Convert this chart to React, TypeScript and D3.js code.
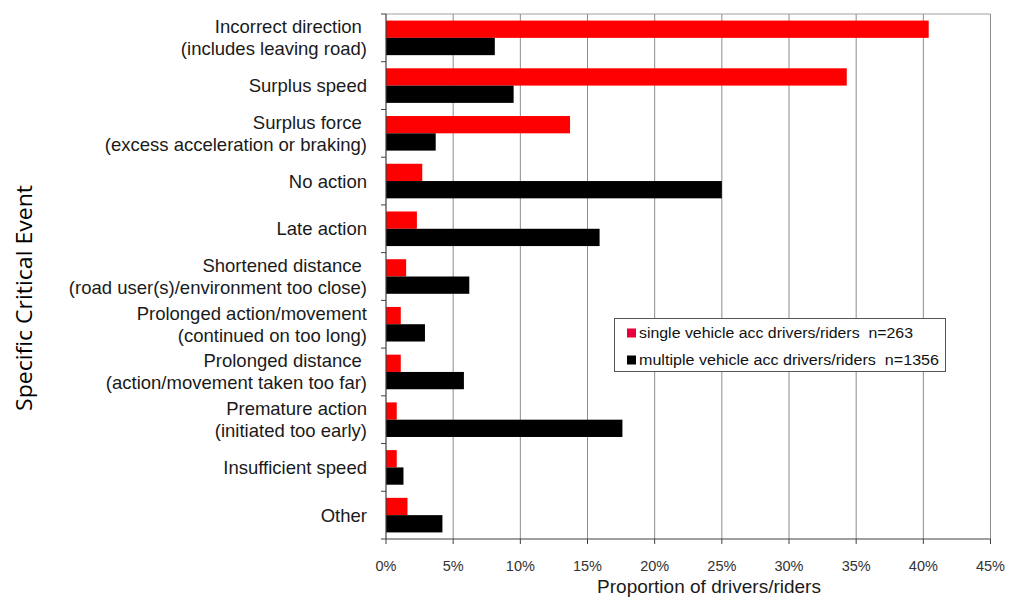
import { useRef, useEffect } from 'react';
import * as d3 from 'd3';

// category labels (each line of a label is an entry)
const categories: string[][] = [
  ['Incorrect direction ', '(includes leaving road)'],
  ['Surplus speed'],
  ['Surplus force ', '(excess acceleration or braking)'],
  ['No action'],
  ['Late action'],
  ['Shortened distance ', '(road user(s)/environment too close)'],
  ['Prolonged action/movement', '(continued on too long)'],
  ['Prolonged distance ', '(action/movement taken too far)'],
  ['Premature action', '(initiated too early)'],
  ['Insufficient speed'],
  ['Other'],
];

const singleVehicle = [40.4, 34.3, 13.7, 2.7, 2.3, 1.5, 1.1, 1.1, 0.8, 0.8, 1.6];
const multipleVehicle = [8.1, 9.5, 3.7, 25.0, 15.9, 6.2, 2.9, 5.8, 17.6, 1.3, 4.2];

const xTicks = [0, 5, 10, 15, 20, 25, 30, 35, 40, 45];

const seriesNames = [
  'single vehicle acc drivers/riders  n=263',
  'multiple vehicle acc drivers/riders  n=1356',
];
const seriesColors = ['#ff0000', '#000000'];

const W = 1011;
const H = 598;

const App = () => {
  const svgRef = useRef<SVGSVGElement>(null);

  useEffect(() => {
    if (!svgRef.current) return;
    const svg = d3.select(svgRef.current);
    svg.selectAll('*').remove();

    const left = 386;
    const right = 990.5;
    const top = 14;
    const bottom = 539;

    const x = d3.scaleLinear().domain([0, 45]).range([left, right]);
    const y = d3.scaleBand<number>()
      .domain(d3.range(categories.length))
      .range([top, bottom]);
    const inner = d3.scaleBand<number>()
      .domain([0, 1])
      .range([0, y.bandwidth()])
      .paddingOuter(0.38)
      .paddingInner(0);

    // plot frame: top border, vertical gridlines
    svg.append('line')
      .attr('x1', left).attr('x2', right)
      .attr('y1', top).attr('y2', top)
      .attr('stroke', '#a0a0a0').attr('stroke-width', 1);

    svg.append('g')
      .selectAll('line')
      .data(xTicks.slice(1))
      .enter()
      .append('line')
      .attr('x1', d => x(d)).attr('x2', d => x(d))
      .attr('y1', top).attr('y2', bottom)
      .attr('stroke', '#8c8c8c').attr('stroke-width', 1);

    // bars
    const series = [singleVehicle, multipleVehicle];
    series.forEach((vals, s) => {
      svg.append('g')
        .selectAll('rect')
        .data(vals)
        .enter()
        .append('rect')
        .attr('x', x(0))
        .attr('y', (_d, i) => (y(i) as number) + (inner(s) as number))
        .attr('width', d => x(d) - x(0))
        .attr('height', inner.bandwidth())
        .attr('fill', seriesColors[s]);
    });

    // y axis line and ticks at band boundaries
    svg.append('line')
      .attr('x1', left).attr('x2', left)
      .attr('y1', top).attr('y2', bottom)
      .attr('stroke', '#404040').attr('stroke-width', 1.2);
    svg.append('g')
      .selectAll('line')
      .data(d3.range(categories.length + 1))
      .enter()
      .append('line')
      .attr('x1', left - 5).attr('x2', left)
      .attr('y1', i => top + i * y.step())
      .attr('y2', i => top + i * y.step())
      .attr('stroke', '#404040').attr('stroke-width', 1);

    // x axis line and ticks
    svg.append('line')
      .attr('x1', left).attr('x2', right)
      .attr('y1', bottom).attr('y2', bottom)
      .attr('stroke', '#404040').attr('stroke-width', 1.2);
    svg.append('g')
      .selectAll('line')
      .data(xTicks)
      .enter()
      .append('line')
      .attr('x1', d => x(d)).attr('x2', d => x(d))
      .attr('y1', bottom).attr('y2', bottom + 5)
      .attr('stroke', '#404040').attr('stroke-width', 1);

    svg.append('g')
      .selectAll('text')
      .data(xTicks)
      .enter()
      .append('text')
      .attr('x', d => x(d))
      .attr('y', 566)
      .attr('dy', '0.35em')
      .attr('text-anchor', 'middle')
      .attr('font-family', 'Liberation Sans, Arial, sans-serif')
      .attr('font-size', '14.5px')
      .attr('fill', '#333')
      .text(d => `${d}%`);

    // category labels
    const labels = svg.append('g')
      .attr('font-family', 'Liberation Sans, Arial, sans-serif')
      .attr('font-size', '18.5px')
      .attr('fill', '#1a1a1a')
      .attr('text-anchor', 'end');
    categories.forEach((lines, i) => {
      const cy = (y(i) as number) + y.bandwidth() / 2;
      lines.forEach((line, j) => {
        const off = lines.length === 1 ? 0 : (j === 0 ? -11 : 11);
        labels.append('text')
          .attr('x', 367)
          .attr('y', cy + off)
          .attr('dy', '0.35em')
          .style('white-space', 'pre')
          .text(line);
      });
    });

    // axis titles
    svg.append('text')
      .attr('x', 709)
      .attr('y', 586)
      .attr('dy', '0.35em')
      .attr('text-anchor', 'middle')
      .attr('font-family', 'Liberation Sans, Arial, sans-serif')
      .attr('font-size', '19px')
      .attr('fill', '#1a1a1a')
      .text('Proportion of drivers/riders');

    svg.append('text')
      .attr('transform', 'translate(25, 298) rotate(-90)')
      .attr('dy', '0.35em')
      .attr('text-anchor', 'middle')
      .attr('font-family', 'Open Sans, sans-serif')
      .attr('font-size', '21px')
      .attr('fill', '#000')
      .attr('textLength', 226)
      .attr('lengthAdjust', 'spacingAndGlyphs')
      .text('Specific Critical Event');

    // legend
    const lg = svg.append('g');
    lg.append('rect')
      .attr('x', 614.5).attr('y', 318.5)
      .attr('width', 331).attr('height', 53)
      .attr('fill', '#fff')
      .attr('stroke', '#555').attr('stroke-width', 1);
    const legendWidths = [274, 300];
    seriesNames.forEach((name, i) => {
      const cy = 333 + i * 27;
      lg.append('rect')
        .attr('x', 627).attr('y', cy - 4.5)
        .attr('width', 9).attr('height', 9)
        .attr('fill', i === 0 ? '#e8003c' : seriesColors[i]);
      lg.append('text')
        .attr('x', 639)
        .attr('y', cy)
        .attr('dy', '0.35em')
        .attr('font-family', 'Liberation Sans, Arial, sans-serif')
        .attr('font-size', '14px')
        .attr('fill', '#111')
        .attr('textLength', legendWidths[i])
        .attr('lengthAdjust', 'spacingAndGlyphs')
        .style('white-space', 'pre')
        .text(name);
    });
  }, []);

  return (
    <svg
      ref={svgRef}
      width={W}
      height={H}
      style={{ position: 'absolute', left: 0, top: 0, background: '#fff' }}
    />
  );
};

export default App;
